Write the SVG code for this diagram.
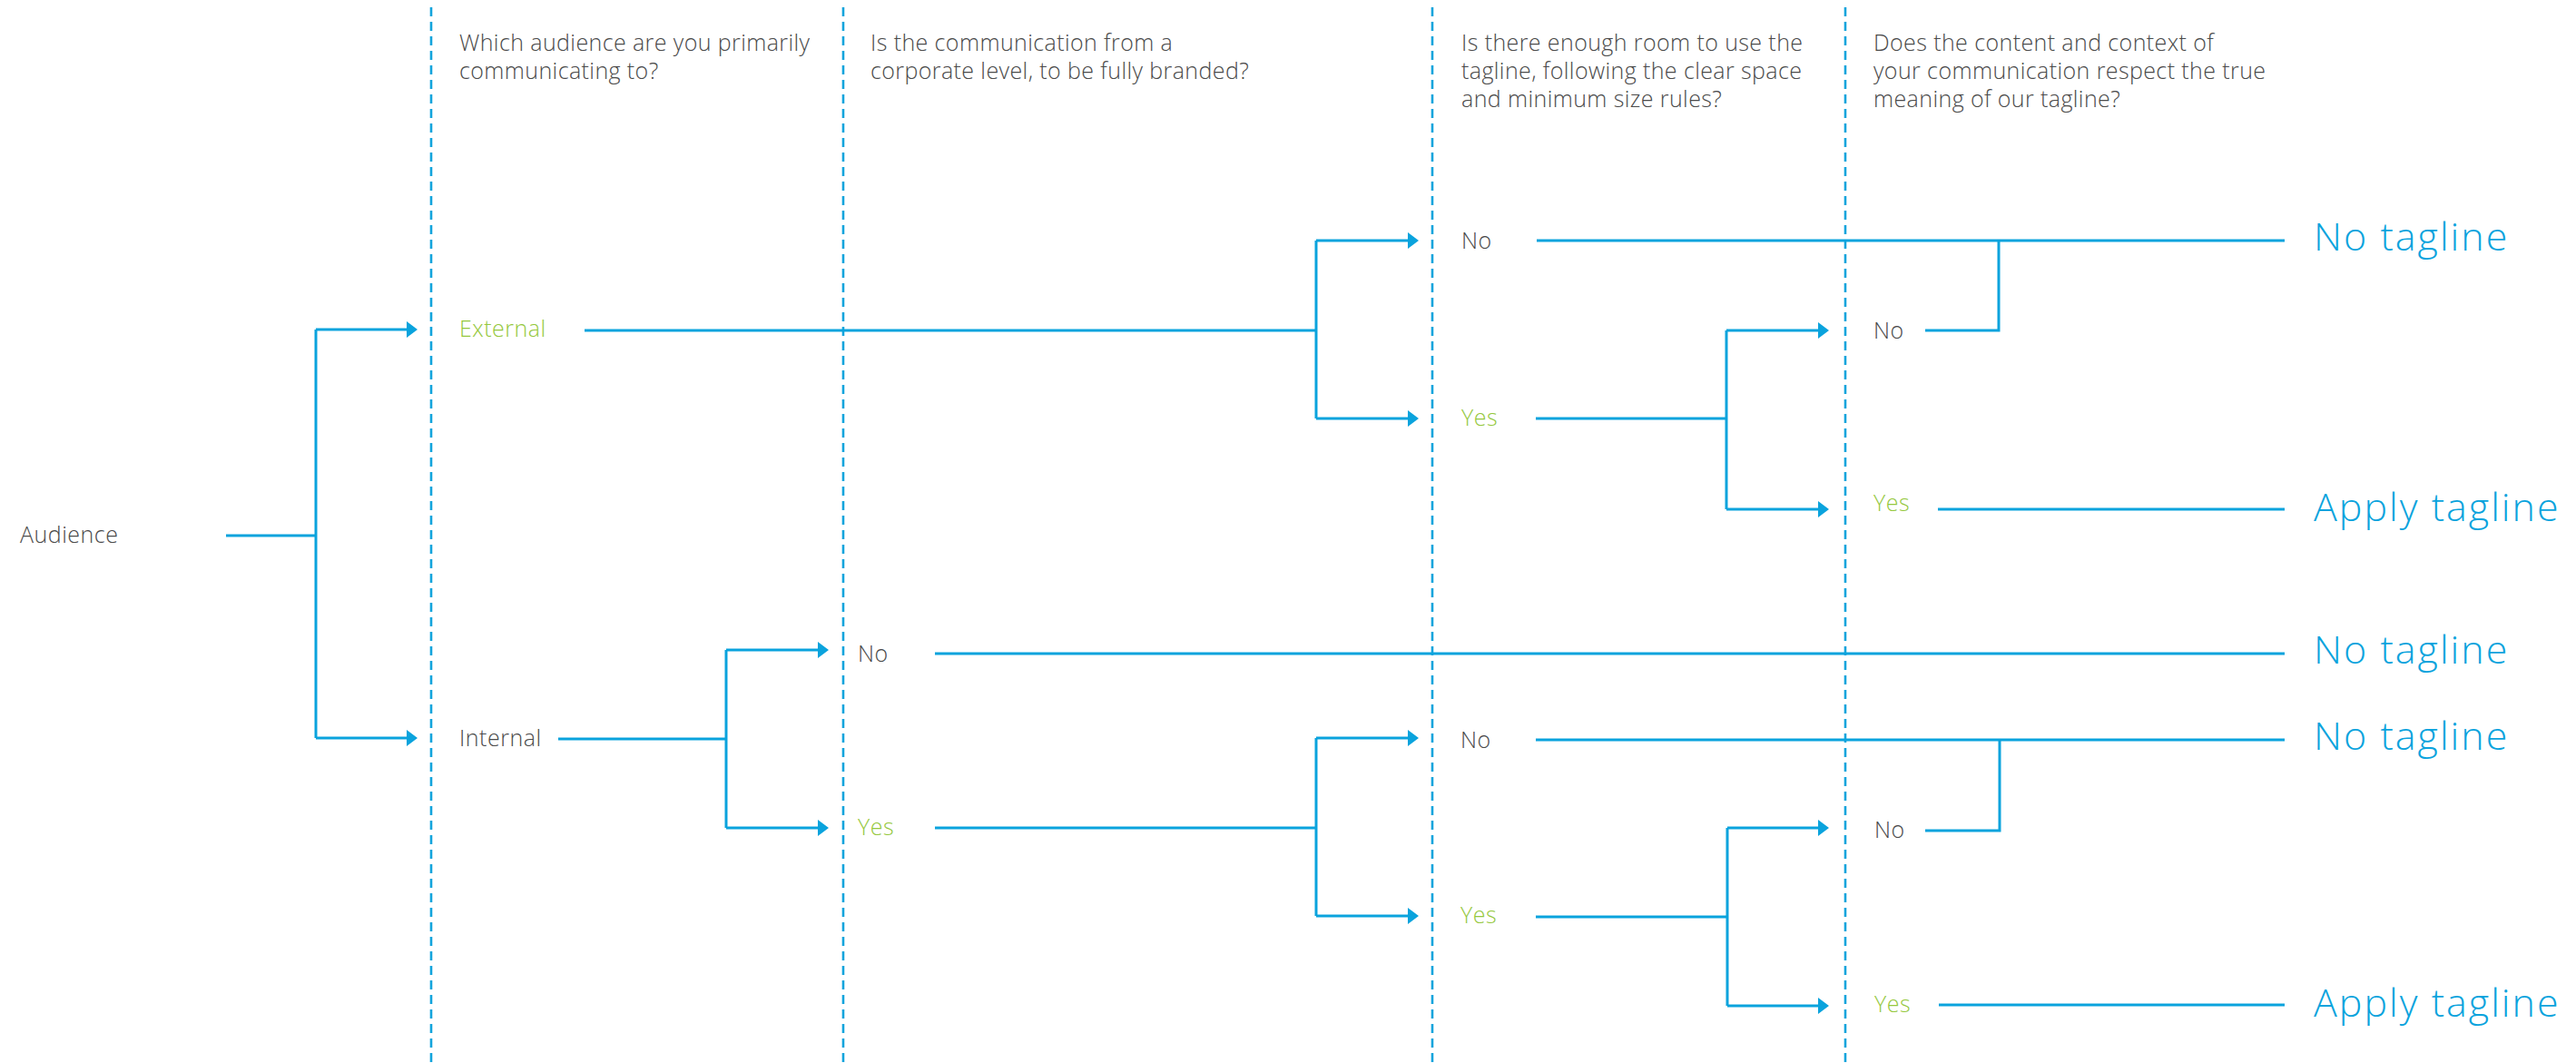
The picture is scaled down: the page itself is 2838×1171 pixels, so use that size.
<svg xmlns="http://www.w3.org/2000/svg" width="2838" height="1171" viewBox="0 0 2838 1171">
<style>
text{font-family:"Open Sans","Noto Sans","Liberation Sans",sans-serif;font-weight:300}
.q{font-size:25px;fill:#4a4a4a;letter-spacing:0.4px}
.lbl{font-size:25px;fill:#4a4a4a;letter-spacing:0.5px}
.yes{font-size:25px;fill:#95c83d;letter-spacing:0.5px}
.out{font-size:43px;fill:#0aa3dd;letter-spacing:2px}
.grid{stroke:#12a4dc;stroke-width:2.6;stroke-dasharray:10 6;fill:none}
.c{stroke:#0aa3dd;stroke-width:3;fill:none}
.a{stroke:#0aa3dd;stroke-width:3;fill:none;marker-end:url(#ah)}
</style>
<defs>
<marker id="ah" markerUnits="userSpaceOnUse" markerWidth="12" markerHeight="18" refX="0" refY="9" orient="auto" overflow="visible">
<path d="M0,0 L12,9 L0,18 Z" fill="#0aa3dd"/>
</marker>
</defs>
<rect width="2838" height="1171" fill="#ffffff"/>
<g id="gridlines">
<line class="grid" x1="475" y1="8" x2="475" y2="1171"/>
<line class="grid" x1="929" y1="8" x2="929" y2="1171"/>
<line class="grid" x1="1578" y1="8" x2="1578" y2="1171"/>
<line class="grid" x1="2033" y1="8" x2="2033" y2="1171"/>
</g>
<g id="questions">
<text class="q" x="506" y="56">Which audience are you primarily</text>
<text class="q" x="506" y="87">communicating to?</text>
<text class="q" x="959" y="56">Is the communication from a</text>
<text class="q" x="959" y="87">corporate level, to be fully branded?</text>
<text class="q" x="1610" y="56">Is there enough room to use the</text>
<text class="q" x="1610" y="87">tagline, following the clear space</text>
<text class="q" x="1610" y="118">and minimum size rules?</text>
<text class="q" x="2064" y="56">Does the content and context of</text>
<text class="q" x="2064" y="87">your communication respect the true</text>
<text class="q" x="2064" y="118">meaning of our tagline?</text>
</g>
<g id="connectors">
<path class="c" d="M249,590 H348 M348,363 V813"/>
<path class="a" d="M348,363 H448"/>
<path class="a" d="M348,813 H448"/>
<path class="c" d="M644,364 H1450 M1450,265 V461"/>
<path class="a" d="M1450,265 H1551"/>
<path class="a" d="M1450,461 H1551"/>
<path class="c" d="M1693,265 H2517 M2202,265 V364 H2121"/>
<path class="c" d="M1692,461 H1902 M1902,364 V561"/>
<path class="a" d="M1902,364 H2003"/>
<path class="a" d="M1902,561 H2003"/>
<path class="c" d="M2135,561 H2517"/>
<path class="c" d="M615,814 H800 M800,716 V912"/>
<path class="a" d="M800,716 H901"/>
<path class="a" d="M800,912 H901"/>
<path class="c" d="M1030,720 H2517"/>
<path class="c" d="M1030,912 H1450 M1450,813 V1009"/>
<path class="a" d="M1450,813 H1551"/>
<path class="a" d="M1450,1009 H1551"/>
<path class="c" d="M1692,815 H2517 M2203,815 V915 H2121"/>
<path class="c" d="M1692,1010 H1903 M1903,912 V1108"/>
<path class="a" d="M1903,912 H2003"/>
<path class="a" d="M1903,1108 H2003"/>
<path class="c" d="M2136,1107 H2517"/>
</g>
<g id="n-audience"><text class="lbl" x="22" y="598">Audience</text></g>
<g id="n-external"><text class="yes" x="506" y="371">External</text></g>
<g id="n-internal"><text class="lbl" x="506" y="822">Internal</text></g>
<g id="n-c2-no"><text class="lbl" x="945" y="729">No</text></g>
<g id="n-c2-yes"><text class="yes" x="945" y="920">Yes</text></g>
<g id="n-c3a-no"><text class="lbl" x="1610" y="274">No</text></g>
<g id="n-c3a-yes"><text class="yes" x="1610" y="469">Yes</text></g>
<g id="n-c4a-no"><text class="lbl" x="2064" y="373">No</text></g>
<g id="n-c4a-yes"><text class="yes" x="2064" y="563">Yes</text></g>
<g id="n-c3b-no"><text class="lbl" x="1609" y="824">No</text></g>
<g id="n-c3b-yes"><text class="yes" x="1609" y="1017">Yes</text></g>
<g id="n-c4b-no"><text class="lbl" x="2065" y="923">No</text></g>
<g id="n-c4b-yes"><text class="yes" x="2065" y="1115">Yes</text></g>
<g id="o1"><text class="out" x="2549" y="276">No tagline</text></g>
<g id="o2"><text class="out" x="2549" y="574">Apply tagline</text></g>
<g id="o3"><text class="out" x="2549" y="731">No tagline</text></g>
<g id="o4"><text class="out" x="2549" y="826">No tagline</text></g>
<g id="o5"><text class="out" x="2549" y="1120">Apply tagline</text></g>
</svg>
